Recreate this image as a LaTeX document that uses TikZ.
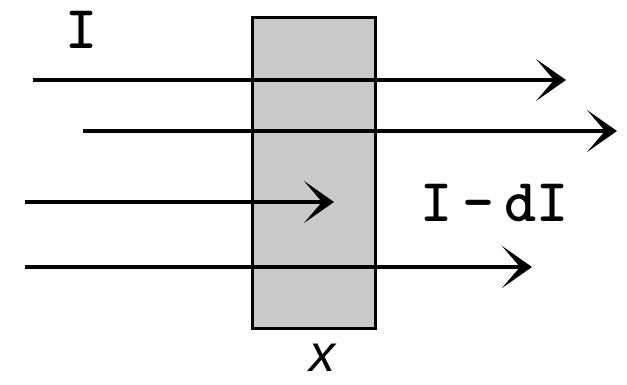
\documentclass[tikz,border=0pt]{standalone}
\usepackage{fontspec}
\newfontfamily\xfont{Liberation Sans}
\usetikzlibrary{arrows.meta}
\definecolor{slabgray}{HTML}{C9C9C9}
\begin{document}
\begin{tikzpicture}[x=1pt,y=-1pt,
  ray/.style={line width=3.5pt, -{Stealth[length=30pt,width=42pt,inset=18pt]}},
  lab/.style={font=\fontsize{61}{61}\selectfont\ttfamily\bfseries, inner sep=0pt},
  slabbox/.style={draw, line width=3pt, fill=slabgray, inner sep=0pt}]
\useasboundingbox (0,0) rectangle (627,384);
\node[slabbox, minimum width=123pt, minimum height=311pt] (slab) at (314,173) {};
\coordinate (a1) at (33,80);  \coordinate (b1) at (566,80);
\coordinate (a2) at (83,131); \coordinate (b2) at (617,131);
\coordinate (a3) at (25,202); \coordinate (b3) at (334,202);
\coordinate (a4) at (25,267); \coordinate (b4) at (532,267);
\draw[ray] (a1) -- (b1);
\draw[ray] (a2) -- (b2);
\draw[ray] (a3) -- (b3);
\draw[ray] (a4) -- (b4);
\node[lab] (I) at (82,30) {I};
\node[lab] (IdI) at (495,203) {I\hspace{10pt}-\hspace{10pt}dI};
\node[font=\xfont\itshape\fontsize{52}{52}\selectfont, inner sep=0pt] (x) at (322,358) {x};
\end{tikzpicture}
\end{document}
